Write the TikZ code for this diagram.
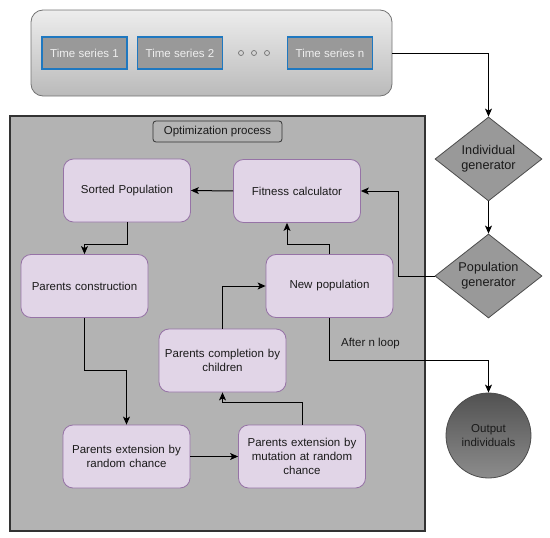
\documentclass[tikz,border=0pt]{standalone}
\usepackage{fontspec}
\setmainfont{Liberation Sans}
\usetikzlibrary{arrows.meta,shapes.geometric,calc}
\definecolor{procfill}{HTML}{E1D5E7}
\definecolor{procdraw}{HTML}{9673A6}
\definecolor{optfill}{HTML}{B3B3B3}
\definecolor{optdraw}{HTML}{333333}
\definecolor{tsfill}{HTML}{999999}
\definecolor{tsdraw}{HTML}{1F78C0}
\definecolor{tstext}{HTML}{EEEEEE}
\definecolor{dmfill}{HTML}{999999}
\definecolor{dmdraw}{HTML}{4D4D4D}
\definecolor{txt}{HTML}{1A1A1A}
\begin{document}
\begin{tikzpicture}[x=1pt,y=-1pt,
  every node/.style={font=\fontsize{11.5}{14}\selectfont, text=txt},
  proc/.style={draw=procdraw, fill=procfill, rounded corners=10pt, line width=0.8pt,
    minimum width=127pt, minimum height=63pt, align=center, text width=120pt, inner sep=2pt},
  tsbox/.style={draw=tsdraw, fill=tsfill, line width=1.2pt, minimum width=85pt, minimum height=32pt, text=tstext, inner sep=1pt},
  dmd/.style={diamond, draw=dmdraw, fill=dmfill, line width=0.8pt, minimum width=107pt, minimum height=84pt, align=center, inner sep=0pt, aspect=1.27, font=\fontsize{12.7}{15}\selectfont},
  arr/.style={draw=black, line width=1pt, -{Stealth[length=8pt,width=7pt,inset=2pt]}},
  dotc/.style={circle, draw=black!55, line width=0.7pt, minimum size=5pt, inner sep=0pt}
]
\useasboundingbox (0,0) rectangle (550,538);

% top container
\node[draw=black!55, line width=0.8pt, rounded corners=12pt, top color=black!7, bottom color=black!27,
  minimum width=361pt, minimum height=86pt, inner sep=0pt] (top) at (211.5,53) {};
\node[tsbox] (ts1) at (84.5,53) {Time series 1};
\node[tsbox] (ts2) at (180,53) {Time series 2};
\node[tsbox] (tsn) at (330,53) {Time series n};
\node[dotc] (d1) at (241,53) {};
\node[dotc] (d2) at (254,53) {};
\node[dotc] (d3) at (267,53) {};

% optimization box
\node[draw=optdraw, fill=optfill, line width=1.2pt, minimum width=415pt, minimum height=415pt, inner sep=0pt] (opt) at (217.5,323.5) {};
\node[draw=optdraw, fill=optfill, line width=0.8pt, rounded corners=3pt, minimum width=129pt, minimum height=21pt, inner sep=0pt] (optlab) at (217.5,131.5) {Optimization process};

% process nodes
\node[proc] (sorted) at (127,190.5) {Sorted Population};
\node[proc] (fitness) at (297,191) {Fitness calculator};
\node[proc] (pcons) at (84.5,286) {Parents construction};
\node[proc] (newpop) at (329.5,286) {New population};
\node[proc] (pcomp) at (222.5,360.5) {Parents completion by\\children};
\node[proc] (pextr) at (126.5,456.5) {Parents extension by\\random chance};
\node[proc] (pextm) at (302,456.5) {Parents extension by\\mutation at random\\chance};

% right column
\node[dmd] (indgen) at (488.5,159) {Individual\\generator};
\node[dmd] (popgen) at (488.5,276) {Population\\generator};
\node[circle, draw=black!70, line width=0.8pt, top color=black!68, bottom color=black!45,
  minimum size=85pt, inner sep=0pt, align=center] (out) at (488.5,435.5) {Output\\individuals};

\node (lab) at (370.5,344) {After n loop};

% connectors
\draw[arr] (top.east) -| (indgen.north);
\draw[arr] (indgen.south) -- (popgen.north);
\draw[arr] (popgen.west) -- ++(-36,0) |- (fitness.east);
\draw[arr] (fitness.west) -- (sorted.east);
\draw[arr] (sorted.south) -- ++(0,22) -| (pcons.north);
\draw[arr] (pcons.south) -- ++(0,53) -| (pextr.north);
\draw[arr] (pextr.east) -- (pextm.west);
\draw[arr] (pextm.north) -- ++(0,-22) -| (pcomp.south);
\draw[arr] (pcomp.north) |- (newpop.west);
\draw[arr] (newpop.north) -- ++(0,-10) -| ([xshift=-10pt]fitness.south);
\draw[arr] (newpop.south) -- ++(0,43) -| (out.north);
\end{tikzpicture}
\end{document}
